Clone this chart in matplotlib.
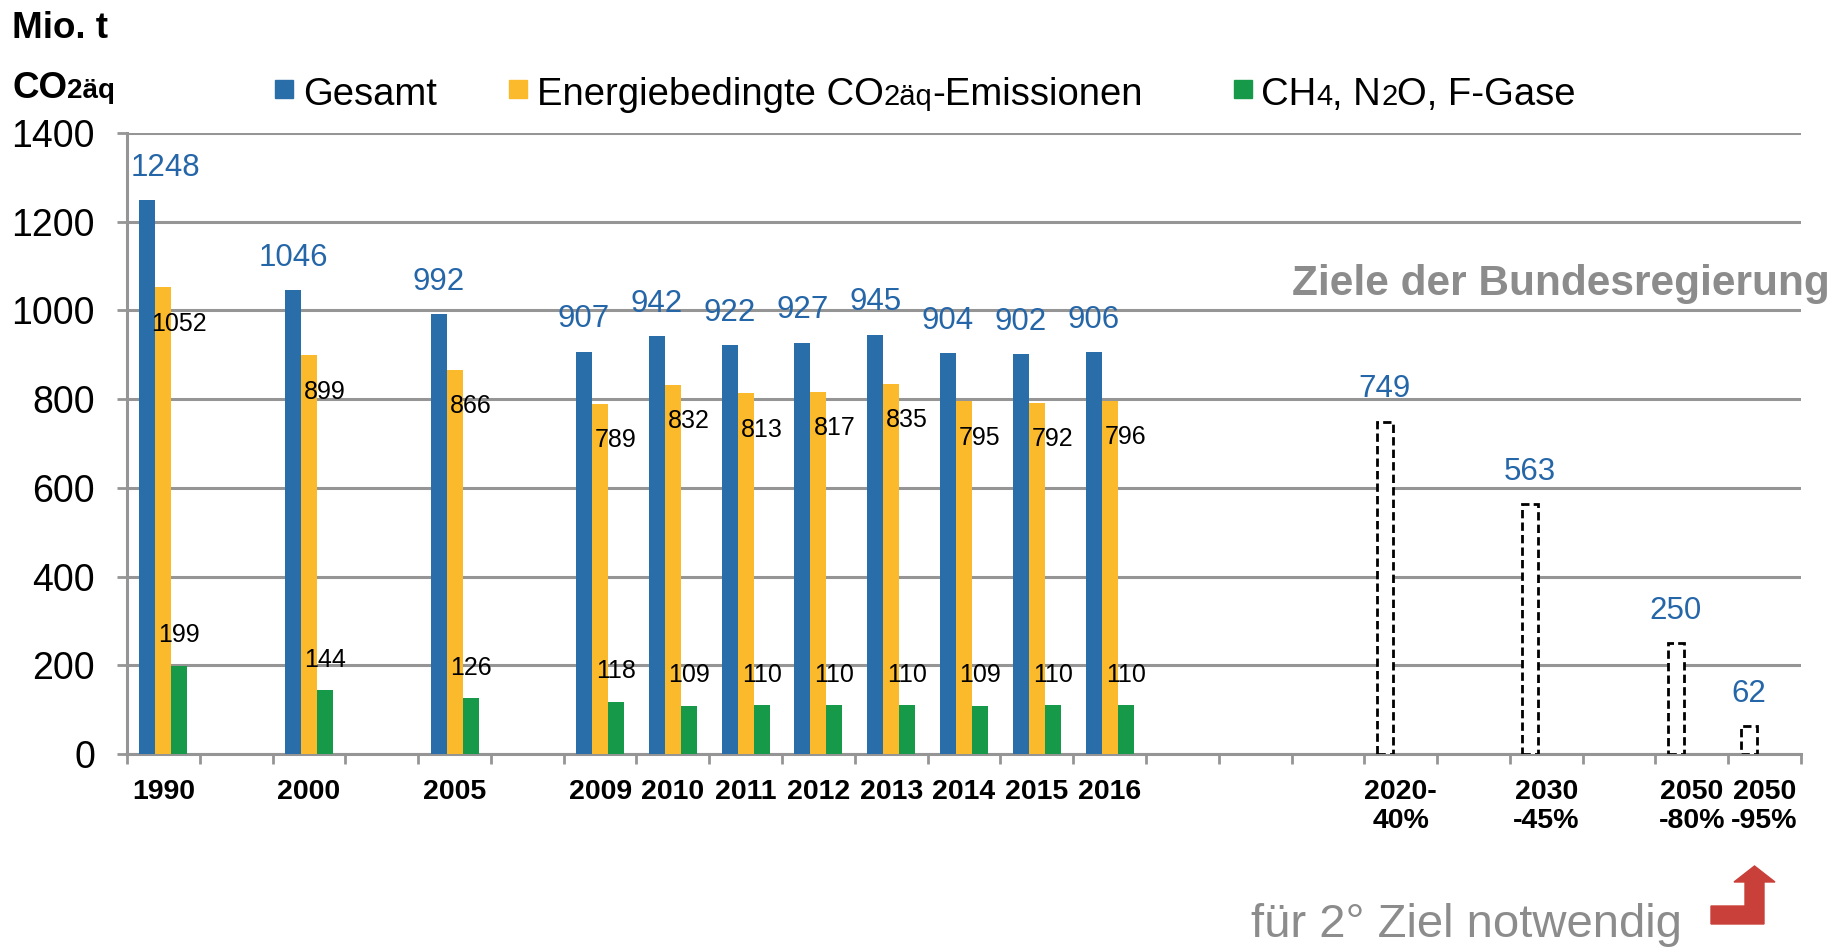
import matplotlib
matplotlib.use("Agg")
import matplotlib.pyplot as plt
from matplotlib.patches import Rectangle, Polygon

plt.rcParams["font.family"] = ["Liberation Sans", "DejaVu Sans"]

# categories on the x axis (empty strings are spacer slots)
CATEGORIES = ["1990", "", "2000", "", "2005", "", "2009", "2010", "2011", "2012",
              "2013", "2014", "2015", "2016", "", "", "", "2020-\n40%", "",
              "2030\n-45%", "", "2050\n-80%", "2050\n-95%"]
YEARS = ["1990", "2000", "2005", "2009", "2010", "2011", "2012", "2013", "2014",
         "2015", "2016"]
GESAMT = [1248, 1046, 992, 907, 942, 922, 927, 945, 904, 902, 906]
ENERGIE = [1052, 899, 866, 789, 832, 813, 817, 835, 795, 792, 796]
ANDERE = [199, 144, 126, 118, 109, 110, 110, 110, 109, 110, 110]
TARGETS = ["2020-\n40%", "2030\n-45%", "2050\n-80%", "2050\n-95%"]
TARGET_VALS = [749, 563, 250, 62]

BLUE = "#296EA8"
YELLOW = "#FBBA2C"
GREEN = "#17994A"
LABEL_BLUE = "#2566A8"
GRID = "#959595"
GREY_TXT = "#8C8C8C"
W = 0.22

W_PX, H_PX = 1844, 947
fig = plt.figure(figsize=(W_PX / 100, H_PX / 100), dpi=100)
ax = fig.add_axes([127 / W_PX, 1 - 754 / H_PX, (1801 - 127) / W_PX, (754 - 133) / H_PX])

xs = [CATEGORIES.index(y) for y in YEARS]
xt = [CATEGORIES.index(t) for t in TARGETS]

ax.bar([x - W for x in xs], GESAMT, W, color=BLUE, zorder=3)
ax.bar(xs, ENERGIE, W, color=YELLOW, zorder=3)
ax.bar([x + W for x in xs], ANDERE, W, color=GREEN, zorder=3)
ax.bar([x - W for x in xt], TARGET_VALS, W, facecolor="white", edgecolor="black",
       linestyle=(0, (3, 1.5)), linewidth=2, zorder=3)

for i, (x, g, e, a) in enumerate(zip(xs, GESAMT, ENERGIE, ANDERE)):
    if i == 0:
        ax.text(-0.45, g + 73, str(g), color=LABEL_BLUE, fontsize=22.5, ha="left", va="center", zorder=4)
    else:
        ax.text(x - W, g + 73, str(g), color=LABEL_BLUE, fontsize=22.5, ha="center", va="center", zorder=4)
    ax.text(x + W, e - 82, str(e), color="black", fontsize=18, ha="center", va="center", zorder=4)
    ax.text(x + W, a + 69, str(a), color="black", fontsize=18, ha="center", va="center", zorder=4)
for x, v in zip(xt, TARGET_VALS):
    ax.text(x - W, v + 73, str(v), color=LABEL_BLUE, fontsize=22.5, ha="center", va="center", zorder=4)

ax.set_xlim(-0.5, len(CATEGORIES) - 0.5)
ax.set_ylim(0, 1400)
ax.set_yticks(range(0, 1401, 200))
ax.set_xticks(range(len(CATEGORIES)))
ax.set_xticklabels(CATEGORIES, fontsize=20.5, fontweight="bold", linespacing=1.15)
ax.set_xticks([i - 0.5 for i in range(len(CATEGORIES) + 1)], minor=True)
ax.tick_params(axis="x", which="major", length=0, pad=18)
ax.tick_params(axis="x", which="minor", length=7, width=2, color=GRID, direction="out")
ax.tick_params(axis="y", length=7, width=2, color=GRID, labelsize=27, pad=16)
ax.yaxis.grid(True, color=GRID, linewidth=2.2, zorder=0)
ax.set_axisbelow(True)
for s in ("top", "right"):
    ax.spines[s].set_visible(False)
for s in ("left", "bottom"):
    ax.spines[s].set_color(GRID)
    ax.spines[s].set_linewidth(2.2)

renderer = fig.canvas.get_renderer()


def rich(x_px, base_px, parts, **kw):
    """Draw pieces of text one after another on a common baseline."""
    x = x_px / W_PX
    for s, size in parts:
        t = fig.text(x, 1 - base_px / H_PX, s, fontsize=size, va="baseline", ha="left", **kw)
        x += t.get_window_extent(renderer).width / W_PX


# unit header
fig.text(12 / W_PX, 1 - 38 / H_PX, "Mio. t", fontsize=26.5, fontweight="bold", va="baseline")
rich(12, 98, [("CO", 26.5), ("2äq", 20)], fontweight="bold")

# legend
for sq_x, col in [(275, BLUE), (509, YELLOW), (1234, GREEN)]:
    fig.patches.append(Rectangle((sq_x / W_PX, 1 - 98 / H_PX), 18 / W_PX, 18 / H_PX,
                                 transform=fig.transFigure, color=col))
rich(303, 105, [("Gesamt", 27.5)])
rich(537, 105, [("Energiebedingte CO", 27.5), ("2äq", 21), ("-Emissionen", 27.5)])
rich(1261, 105, [("CH", 27.5), ("4", 21), (", N", 27.5), ("2", 21), ("O, F-Gase", 27.5)])

fig.text(1561 / W_PX, 1 - 284 / H_PX, "Ziele der Bundesregierung", fontsize=30.5,
         fontweight="bold", color=GREY_TXT, ha="center", va="center")
fig.text(1466 / W_PX, 1 - 925 / H_PX, "für 2° Ziel notwendig", fontsize=34,
         color=GREY_TXT, ha="center", va="center")

arrow = [(1711, 906), (1745, 906), (1745, 882), (1734, 882), (1754.5, 866),
         (1775, 882), (1764, 882), (1764, 924), (1711, 924)]
fig.patches.append(Polygon([(px / W_PX, 1 - py / H_PX) for px, py in arrow],
                           closed=True, transform=fig.transFigure, color="#C9403A"))

fig.savefig("out.png", dpi=100)
